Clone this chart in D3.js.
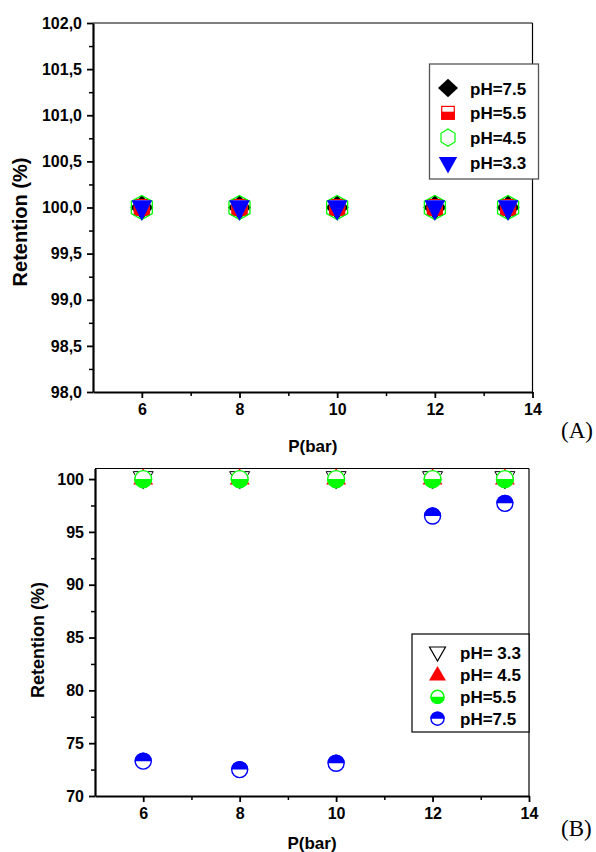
<!DOCTYPE html>
<html><head><meta charset="utf-8">
<script src="https://cdn.jsdelivr.net/npm/d3@7"></script>
<style>
html,body{margin:0;padding:0;background:#fff;}
svg{display:block;}
text{font-family:"Liberation Sans",Arial,sans-serif;font-weight:bold;fill:#000;}
</style></head>
<body>
<svg id="chart" width="596" height="852"></svg>
<script>
// ---- data ----
const pressure = [6, 8, 10, 12, 13.5];
const pressureTicks = [6, 8, 10, 12, 14];
// Panel A
const retA_pH75 = [100, 100, 100, 100, 100];
const retA_pH55 = [100, 100, 100, 100, 100];
const retA_pH45 = [100, 100, 100, 100, 100];
const retA_pH33 = [100, 100, 100, 100, 100];
const legendA = ["pH=7.5", "pH=5.5", "pH=4.5", "pH=3.3"];
const yTicksA = [98, 98.5, 99, 99.5, 100, 100.5, 101, 101.5, 102];
// Panel B
const retB_pH33 = [100, 100, 100, 100, 100];
const retB_pH45 = [100, 100, 100, 100, 100];
const retB_pH55 = [100, 100, 100, 100, 100];
const retB_pH75 = [73.3, 72.5, 73.1, 96.5, 97.7];
const legendB = ["pH= 3.3", "pH= 4.5", "pH=5.5", "pH=7.5"];
const yTicksB = [70, 75, 80, 85, 90, 95, 100];

const svg = d3.select("#chart");

// ---- shape helpers (relative paths) ----
const diamond = (hw, hh) => `M0,${-hh}L${hw},0L0,${hh}L${-hw},0Z`;
const hexagon = (hw, hh) => `M0,${-hh}L${hw},${-hh/2}L${hw},${hh/2}L0,${hh}L${-hw},${hh/2}L${-hw},${-hh/2}Z`;
const triDown = (hw, top, tip) => `M${-hw},${-top}L${hw},${-top}L0,${tip}Z`;
const triUp = (hw, tip, base) => `M0,${-tip}L${hw},${base}L${-hw},${base}Z`;

function halfSquare(g, w, h, color) {
  g.append("rect").attr("x", -w/2).attr("y", -h/2).attr("width", w).attr("height", h).attr("fill", "#fff");
  g.append("rect").attr("x", -w/2).attr("y", -h/2 + h*0.42).attr("width", w).attr("height", h*0.58).attr("fill", color);
  g.append("rect").attr("x", -w/2+0.6).attr("y", -h/2+0.6).attr("width", w-1.2).attr("height", h-1.2)
    .attr("fill", "none").attr("stroke", color).attr("stroke-width", 1.2);
}
function halfCircle(g, r, color, topFilled) {
  g.append("circle").attr("r", r).attr("fill", "#fff");
  const sweep = topFilled ? 1 : 0;
  g.append("path").attr("d", `M${-r},0A${r},${r} 0 0 ${sweep} ${r},0Z`).attr("fill", color);
  g.append("circle").attr("r", r - 0.7).attr("fill", "none").attr("stroke", color).attr("stroke-width", 1.4);
}

// ---- panel builder ----
function panel(cfg) {
  const x = d3.scaleLinear().domain([5, 14]).range([cfg.left, cfg.right]);
  const y = d3.scaleLinear().domain(cfg.yDomain).range([cfg.bottom, cfg.top]);
  const g = svg.append("g");

  // frame top/right
  g.append("line").attr("x1", cfg.left).attr("x2", cfg.right).attr("y1", cfg.top).attr("y2", cfg.top)
    .attr("stroke", "#000").attr("stroke-width", 1.2);
  g.append("line").attr("x1", cfg.right).attr("x2", cfg.right).attr("y1", cfg.top).attr("y2", cfg.bottom)
    .attr("stroke", "#000").attr("stroke-width", 1.2);

  // minor ticks
  const minorY = d3.range(cfg.yDomain[0], cfg.yDomain[1] + 1e-9, cfg.yMinor).filter(v => !cfg.yTicks.some(t => Math.abs(t - v) < 1e-9));
  g.append("g").attr("transform", `translate(${cfg.left},0)`)
    .call(d3.axisLeft(y).tickValues(minorY).tickSize(4).tickFormat(""))
    .call(a => a.select(".domain").remove())
    .selectAll("line").attr("stroke-width", 1.5);
  g.append("g").attr("transform", `translate(0,${cfg.bottom})`)
    .call(d3.axisBottom(x).tickValues([7, 9, 11, 13]).tickSize(4).tickFormat(""))
    .call(a => a.select(".domain").remove())
    .selectAll("line").attr("stroke-width", 1.5);

  // major axes
  const ya = g.append("g").attr("transform", `translate(${cfg.left},0)`)
    .call(d3.axisLeft(y).tickValues(cfg.yTicks).tickSize(6).tickSizeOuter(0).tickPadding(5).tickFormat(cfg.yFormat));
  ya.select(".domain").attr("stroke-width", 2.2);
  ya.selectAll(".tick line").attr("stroke-width", 1.8);
  ya.selectAll(".tick text").style("font-size", "16px").style("font-family", '"Liberation Sans",Arial,sans-serif').style("font-weight", "bold").attr("fill", "#000");

  const xa = g.append("g").attr("transform", `translate(0,${cfg.bottom})`)
    .call(d3.axisBottom(x).tickValues(pressureTicks).tickSize(6).tickSizeOuter(0).tickPadding(6).tickFormat(d3.format("d")));
  xa.select(".domain").attr("stroke-width", 2.2);
  xa.selectAll(".tick line").attr("stroke-width", 1.8);
  xa.selectAll(".tick text").style("font-size", "16px").style("font-family", '"Liberation Sans",Arial,sans-serif').style("font-weight", "bold").attr("fill", "#000");

  // titles
  g.append("text").attr("x", (cfg.left + cfg.right) / 2).attr("y", cfg.xTitleY)
    .attr("text-anchor", "middle").style("font-size", "17px").text("P(bar)");
  g.append("text").attr("transform", `translate(${cfg.yTitleX},${cfg.yTitleCY}) rotate(-90)`)
    .attr("text-anchor", "middle").attr("dy", "0.35em").style("font-size", cfg.yTitleSize).text("Retention (%)");
  g.append("text").attr("x", 561).attr("y", cfg.tagY)
    .style("font-family", '"Liberation Serif","Times New Roman",serif').style("font-weight", "normal")
    .style("font-size", "23px").text(cfg.tag);
  return {x, y, g};
}

// ---- Panel A ----
const A = panel({left: 93, right: 532.5, top: 23, bottom: 392, yDomain: [98, 102], yTicks: yTicksA, yMinor: 0.25,
  yFormat: d => d3.format(".1f")(d).replace(".", ","), xTitleY: 452, yTitleX: 20, yTitleCY: 222, yTitleSize: "20px",
  tag: "(A)", tagY: 438});

function plotA(vals, draw) {
  vals.forEach((v, i) => {
    const m = A.g.append("g").attr("transform", `translate(${A.x(pressure[i])},${A.y(v)})`);
    draw(m);
  });
}
plotA(retA_pH75, m => m.append("path").attr("d", diamond(11.5, 12.3)).attr("fill", "#000"));
plotA(retA_pH55, m => halfSquare(m, 16, 17, "#ff0000"));
plotA(retA_pH45, m => m.append("path").attr("d", hexagon(10.5, 12)).attr("fill", "none").attr("stroke", "#00ff00").attr("stroke-width", 1.3));
plotA(retA_pH33, m => m.append("path").attr("d", triDown(10.3, 7.3, 13.5)).attr("fill", "#0000ff"));

// legend A
const LA = A.g.append("g");
LA.append("rect").attr("x", 429.5).attr("y", 64).attr("width", 109).attr("height", 115)
  .attr("fill", "#fff").attr("stroke", "#555").attr("stroke-width", 1.3);
const legAdraw = [
  m => m.append("path").attr("d", diamond(10, 9.2)).attr("fill", "#000"),
  m => halfSquare(m, 13.7, 14, "#ff0000"),
  m => m.append("path").attr("d", hexagon(7, 8.6)).attr("fill", "#fff").attr("stroke", "#00ff00").attr("stroke-width", 1.2),
  m => m.append("path").attr("d", triDown(9.2, 5.5, 11)).attr("fill", "#0000ff")
];
legendA.forEach((lab, i) => {
  const cy = 88 + i * 24.8;
  const m = LA.append("g").attr("transform", `translate(448,${cy})`);
  legAdraw[i](m);
  LA.append("text").attr("x", 470).attr("y", cy + 6.5).style("font-size", "17px").text(lab);
});

// ---- Panel B ----
const B = panel({left: 95, right: 529, top: 468.5, bottom: 796, yDomain: [70, 101], yTicks: yTicksB, yMinor: 2.5,
  yFormat: d3.format("d"), xTitleY: 849, yTitleX: 38, yTitleCY: 640, yTitleSize: "18px",
  tag: "(B)", tagY: 836});

function plotB(vals, draw) {
  vals.forEach((v, i) => {
    const m = B.g.append("g").attr("transform", `translate(${B.x(pressure[i])},${B.y(v)})`);
    draw(m);
  });
}
plotB(retB_pH33, m => m.append("path").attr("d", triDown(10, 7.4, 10)).attr("fill", "#fff").attr("stroke", "#000").attr("stroke-width", 1));
plotB(retB_pH45, m => m.append("path").attr("d", triUp(10, 10.7, 5.5)).attr("fill", "#ff0000"));
plotB(retB_pH55, m => halfCircle(m, 9.1, "#00ff00", false));
plotB(retB_pH75, m => halfCircle(m, 8.7, "#0000ff", true));

// legend B
const LB = B.g.append("g");
LB.append("rect").attr("x", 412).attr("y", 634).attr("width", 117).attr("height", 98)
  .attr("fill", "#fff").attr("stroke", "#000").attr("stroke-width", 1.2);
const legBdraw = [
  m => m.append("path").attr("d", triDown(8, 6, 8)).attr("fill", "#fff").attr("stroke", "#000").attr("stroke-width", 1.2),
  m => m.append("path").attr("d", triUp(8.5, 9, 5.5)).attr("fill", "#ff0000"),
  m => halfCircle(m, 7.2, "#00ff00", false),
  m => halfCircle(m, 7.2, "#0000ff", true)
];
legendB.forEach((lab, i) => {
  const cy = 653 + i * 21.9;
  const m = LB.append("g").attr("transform", `translate(437.5,${cy})`);
  legBdraw[i](m);
  LB.append("text").attr("x", 460).attr("y", cy + 6).style("font-size", "17px").text(lab);
});
</script>
</body></html>
